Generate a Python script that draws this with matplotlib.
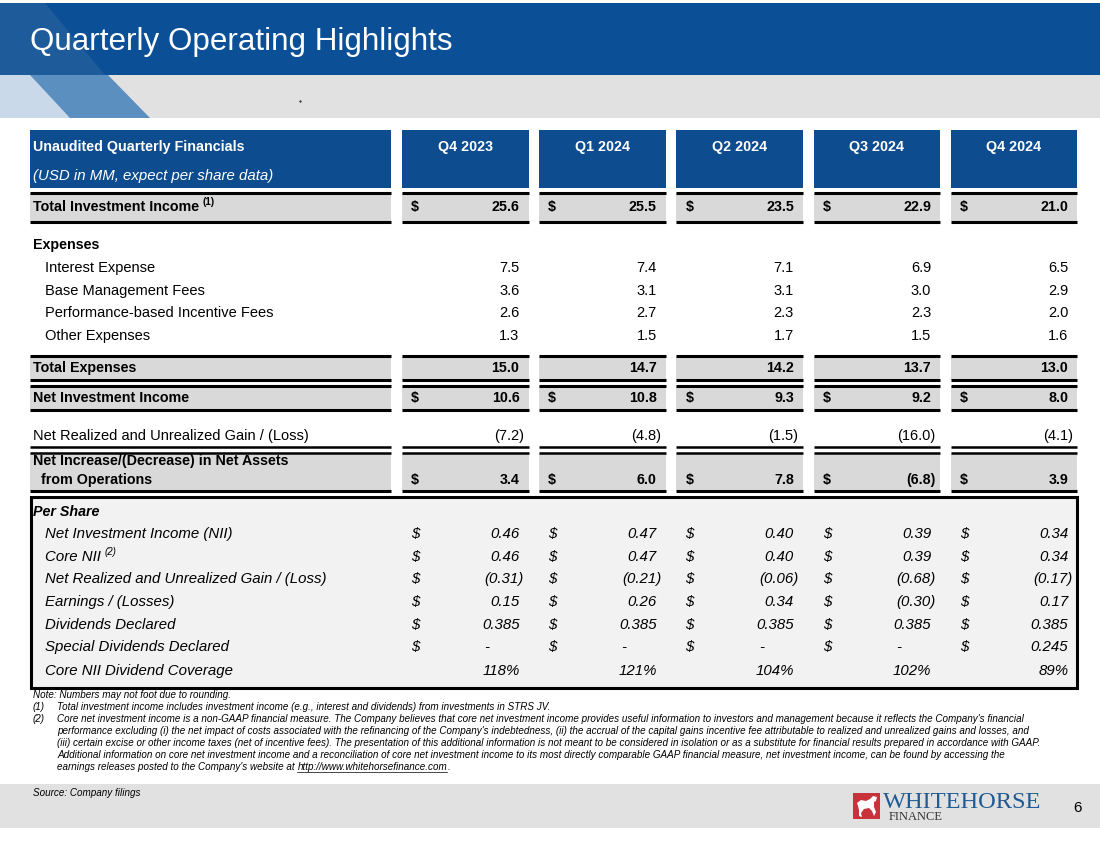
import matplotlib.pyplot as plt
from matplotlib.patches import Rectangle, Polygon

plt.rcParams['font.family'] = ['Liberation Sans', 'DejaVu Sans']

# data
quarters = ['Q4 2023', 'Q1 2024', 'Q2 2024', 'Q3 2024', 'Q4 2024']
total_investment_income = [25.6, 25.5, 23.5, 22.9, 21.0]
interest_expense = [7.5, 7.4, 7.1, 6.9, 6.5]
base_mgmt_fees = [3.6, 3.1, 3.1, 3.0, 2.9]
incentive_fees = [2.6, 2.7, 2.3, 2.3, 2.0]
other_expenses = [1.3, 1.5, 1.7, 1.5, 1.6]
total_expenses = [15.0, 14.7, 14.2, 13.7, 13.0]
net_investment_income = [10.6, 10.8, 9.3, 9.2, 8.0]
net_gain_loss = [-7.2, -4.8, -1.5, -16.0, -4.1]
net_increase = [3.4, 6.0, 7.8, -6.8, 3.9]
ps_nii = [0.46, 0.47, 0.40, 0.39, 0.34]
ps_core_nii = [0.46, 0.47, 0.40, 0.39, 0.34]
ps_gain_loss = [-0.31, -0.21, -0.06, -0.68, -0.17]
ps_earnings = [0.15, 0.26, 0.34, -0.30, 0.17]
ps_dividends = [0.385, 0.385, 0.385, 0.385, 0.385]
ps_special = [0, 0, 0, 0, 0.245]
coverage = [118, 121, 104, 102, 89]

footnotes = [
    "Note: Numbers may not foot due to rounding.",
    "Total investment income includes investment income (e.g., interest and dividends) from investments in STRS JV.",
    "Core net investment income is a non-GAAP financial measure. The Company believes that core net investment income provides useful information to investors and management because it reflects the Company's financial",
    "performance excluding (i) the net impact of costs associated with the refinancing of the Company's indebtedness, (ii) the accrual of the capital gains incentive fee attributable to realized and unrealized gains and losses, and",
    "(iii) certain excise or other income taxes (net of incentive fees). The presentation of this additional information is not meant to be considered in isolation or as a substitute for financial results prepared in accordance with GAAP.",
    "Additional information on core net investment income and a reconciliation of core net investment income to its most directly comparable GAAP financial measure, net investment income, can be found by accessing the",
    "earnings releases posted to the Company's website at ",
]
url = "http://www.whitehorsefinance.com"

BLUE = '#0b5096'
HEAD = '#0c4c8f'
GRAY = '#e1e1e1'
BAND = '#d9d9d9'
FS_B = 10.3   # bold table text
FS_R = 10.5   # regular table text
FS_I = 10.8   # italic per share text
FS_N = 7.15   # footnotes


def fmt(v, dec=1, dash=False):
    if dash and v == 0:
        return '-'
    if v < 0:
        return '(%.*f)' % (dec, -v)
    return '%.*f' % (dec, v)


fig = plt.figure(figsize=(11, 8.49), dpi=100)
ax = fig.add_axes([0, 0, 1, 1])
ax.set_xlim(0, 1100)
ax.set_ylim(849, 0)
ax.axis('off')


def right_of(t, pad=2):
    fig.canvas.draw()
    return t.get_window_extent().transformed(ax.transData.inverted()).x1 + pad


# title banner
ax.add_patch(Rectangle((0, 3), 1100, 72, color=BLUE, lw=0))
ax.add_patch(Polygon([(0, 3), (45, 3), (105, 75), (0, 75)], color='#2a63a0', lw=0, alpha=0.6))
ax.add_patch(Rectangle((0, 75), 1100, 43, color=GRAY, lw=0))
ax.add_patch(Polygon([(0, 75), (108, 75), (150, 118), (40, 118)], color='#5a8fc0', lw=0))
ax.add_patch(Polygon([(0, 75), (30, 75), (70, 118), (0, 118)], color='#c9d9ea', lw=0))
ax.text(30, 42, 'Quarterly Operating Highlights', color='white', fontsize=22.6, va='center')
ax.plot([300], [101], marker='.', ms=1, color='k')

# table geometry
lab_x0, lab_x1 = 30, 391
col_x0 = [402 + i * 137.2 for i in range(5)]
col_w = 126.5
segments = [(lab_x0, lab_x1)] + [(x, x + col_w) for x in col_x0]


def hline(y, lw=2.2):
    for a, b in segments:
        ax.plot([a, b], [y, y], color='black', lw=lw, solid_capstyle='butt')


def band(y0, y1):
    for a, b in segments:
        ax.add_patch(Rectangle((a, y0), b - a, y1 - y0, color=BAND, lw=0))


# header boxes
for a, b in segments:
    ax.add_patch(Rectangle((a, 130), b - a, 58, color=HEAD, lw=0))
ax.text(33, 147, 'Unaudited Quarterly Financials', color='white', fontsize=FS_B, weight='bold', va='center')
ax.text(33, 176, '(USD in MM, expect per share data)', color='white', fontsize=FS_I, style='italic', va='center')
for i, q in enumerate(quarters):
    ax.text(col_x0[i] + col_w / 2, 147, q, color='white', fontsize=FS_B, weight='bold', va='center', ha='center')

# shaded rows
band(193, 221)
hline(192.5)
hline(221.5)
band(356, 380)
hline(355.7)
hline(380)
band(386, 409)
hline(386)
hline(409.5)
band(453, 490)
hline(447, 1.8)
hline(452.5, 1.8)
hline(490.7)


def row_values(vals, y, dollar=False, bold=False, dec=1):
    fs = FS_B if bold else FS_R
    for i, v in enumerate(vals):
        s = fmt(v, dec)
        xr = col_x0[i] + col_w - 9 + (4.5 if s.endswith(')') else 0)
        ax.text(xr, y, s, ha='right', va='center', fontsize=fs, weight='bold' if bold else 'normal')
        if dollar:
            ax.text(col_x0[i] + 9, y, '$', ha='left', va='center', fontsize=fs, weight='bold' if bold else 'normal')


t = ax.text(33, 207, 'Total Investment Income', fontsize=FS_B, weight='bold', va='center')
ax.text(right_of(t, 3), 202, '(1)', fontsize=7, weight='bold', va='center')
row_values(total_investment_income, 207, dollar=True, bold=True)

ax.text(33, 245, 'Expenses', fontsize=FS_B, weight='bold', va='center')
exp_rows = [('Interest Expense', interest_expense, 268),
            ('Base Management Fees', base_mgmt_fees, 291),
            ('Performance-based Incentive Fees', incentive_fees, 313),
            ('Other Expenses', other_expenses, 336)]
for lab, vals, y in exp_rows:
    ax.text(45, y, lab, fontsize=FS_R, va='center')
    row_values(vals, y)

ax.text(33, 368, 'Total Expenses', fontsize=FS_B, weight='bold', va='center')
row_values(total_expenses, 368, bold=True)
ax.text(33, 398, 'Net Investment Income', fontsize=FS_B, weight='bold', va='center')
row_values(net_investment_income, 398, dollar=True, bold=True)
ax.text(33, 436, 'Net Realized and Unrealized Gain / (Loss)', fontsize=FS_R, va='center')
row_values(net_gain_loss, 436)
ax.text(33, 461, 'Net Increase/(Decrease) in Net Assets', fontsize=FS_B, weight='bold', va='center')
ax.text(33, 480, '  from Operations', fontsize=FS_B, weight='bold', va='center')
row_values(net_increase, 480, dollar=True, bold=True)

# per share box
ax.add_patch(Rectangle((31, 497), 1046, 191, facecolor='#f2f2f2', edgecolor='black', lw=2.2))
ax.text(33, 512, 'Per Share', fontsize=FS_B, weight='bold', style='italic', va='center')
ps_rows = [('Net Investment Income (NII)', ps_nii, 2, 534),
           ('Core NII', ps_core_nii, 2, 557),
           ('Net Realized and Unrealized Gain / (Loss)', ps_gain_loss, 2, 579),
           ('Earnings / (Losses)', ps_earnings, 2, 602),
           ('Dividends Declared', ps_dividends, 3, 625),
           ('Special Dividends Declared', ps_special, 3, 647)]
for lab, vals, dec, y in ps_rows:
    t = ax.text(45, y, lab, fontsize=FS_I, style='italic', va='center')
    if lab == 'Core NII':
        ax.text(right_of(t, 4), y - 5, '(2)', fontsize=7, style='italic', va='center')
    for i, v in enumerate(vals):
        s = fmt(v, dec, dash=True)
        xr = col_x0[i] + col_w - 9
        if s == '-':
            xr -= 30
        elif s.endswith(')'):
            xr += 4.5
        ax.text(xr, y, s, ha='right', va='center', fontsize=FS_I, style='italic')
        ax.text(col_x0[i] + 9, y, '$', ha='left', va='center', fontsize=FS_I, style='italic')
ax.text(45, 671, 'Core NII Dividend Coverage', fontsize=FS_I, style='italic', va='center')
for i, c in enumerate(coverage):
    ax.text(col_x0[i] + col_w - 9, 671, '%d%%' % c, ha='right', va='center', fontsize=FS_I, style='italic')

# footnotes
ax.text(33, 695, footnotes[0], fontsize=FS_N, style='italic', va='center')
ax.text(33, 707, '(1)', fontsize=FS_N, style='italic', va='center')
ax.text(57, 707, footnotes[1], fontsize=FS_N, style='italic', va='center')
ax.text(33, 719, '(2)', fontsize=FS_N, style='italic', va='center')
for k, line in enumerate(footnotes[2:]):
    last = ax.text(57, 719 + 12 * k, line, fontsize=FS_N, style='italic', va='center')
t_url = ax.text(right_of(last, 0), 767, url, fontsize=FS_N, style='italic', va='center')
fig.canvas.draw()
ub = t_url.get_window_extent().transformed(ax.transData.inverted())
ax.plot([ub.x0, ub.x1], [772, 772], color='black', lw=0.5)
ax.text(ub.x1, 767, '.', fontsize=FS_N, style='italic', va='center')

# footer with logo
ax.add_patch(Rectangle((0, 784), 1100, 44, color=GRAY, lw=0))
ax.text(33, 793, 'Source: Company filings', fontsize=FS_N, style='italic', va='center')
ax.add_patch(Rectangle((853, 793), 27, 26, color='#c8323a', lw=0))
horse = [(857, 803), (861, 800), (866, 801), (870, 799), (873, 796), (877, 797), (876, 801),
         (874, 802), (874, 807), (876, 812), (874, 816), (872, 811), (869, 808), (864, 809),
         (861, 813), (862, 817), (859, 816), (859, 810), (858, 806)]
ax.add_patch(Polygon(horse, color='white', lw=0))
ax.text(883, 808, 'WHITEHORSE', family='Liberation Serif', fontsize=17.6, color='#1f5a93', va='baseline')
ax.text(889, 820, 'FINANCE', family='Liberation Serif', fontsize=9, color='#333333', va='baseline')
ax.text(1078, 808, '6', fontsize=11, va='center', ha='center')

fig.savefig('out.png', dpi=100)
